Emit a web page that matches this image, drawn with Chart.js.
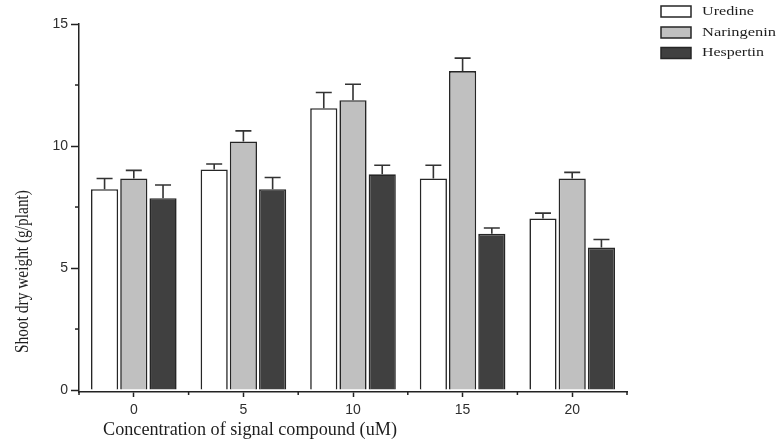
<!DOCTYPE html>
<html>
<head>
<meta charset="utf-8">
<script src="https://cdn.jsdelivr.net/npm/chart.js@4.4.1/dist/chart.umd.min.js"></script>
<style>
  html, body { margin: 0; padding: 0; background: #ffffff; }
  canvas { display: block; }
</style>
</head>
<body>
<canvas id="c" width="777" height="445"></canvas>
<script>
const categories = ['0', '5', '10', '15', '20'];
const seriesNames = ['Uredine', 'Naringenin', 'Hespertin'];
const uredine = [8.23, 9.04, 11.55, 8.67, 7.03];
const naringenin = [8.67, 10.19, 11.88, 13.07, 8.67];
const hespertin = [7.86, 8.23, 8.84, 6.40, 5.84];
const uredineErr = [0.44, 0.22, 0.64, 0.54, 0.22];
const naringeninErr = [0.33, 0.43, 0.65, 0.53, 0.25];
const hespertinErr = [0.54, 0.48, 0.37, 0.24, 0.33];
const yMajorTicks = [0, 5, 10, 15];
const yMinorTicks = [2.5, 7.5, 12.5];
const yTitle = 'Shoot dry weight (g/plant)';
const xTitle = 'Concentration of signal compound (uM)';

const fills = ['#ffffff', '#c0c0c0', '#404040'];
const edge = '#262626';
const axisColor = '#222222';

const errors = [uredineErr, naringeninErr, hespertinErr];

const extrasPlugin = {
  id: 'extras',
  afterDatasetsDraw(chart) {
    const ctx = chart.ctx;
    const ys = chart.scales.y;
    ctx.save();
    ctx.strokeStyle = '#333333';
    ctx.lineWidth = 1.6;
    chart.data.datasets.forEach((ds, i) => {
      const meta = chart.getDatasetMeta(i);
      meta.data.forEach((bar, j) => {
        const v = ds.data[j];
        const e = errors[i][j];
        const yTop = ys.getPixelForValue(v + e);
        ctx.beginPath();
        ctx.moveTo(bar.x, bar.y);
        ctx.lineTo(bar.x, yTop);
        ctx.moveTo(bar.x - 8, yTop);
        ctx.lineTo(bar.x + 8, yTop);
        ctx.stroke();
      });
    });
    ctx.restore();
  },
  afterDraw(chart) {
    const ctx = chart.ctx;
    const ys = chart.scales.y;
    const xs = chart.scales.x;
    const area = chart.chartArea;
    ctx.save();
    // minor y ticks
    ctx.strokeStyle = axisColor;
    ctx.lineWidth = 1.5;
    yMinorTicks.forEach(v => {
      const y = ys.getPixelForValue(v);
      ctx.beginPath();
      ctx.moveTo(area.left - 4, y);
      ctx.lineTo(area.left, y);
      ctx.stroke();
    });
    // x boundary ticks
    for (let k = 0; k <= categories.length; k++) {
      const x = k === 0 ? area.left : (k === categories.length ? area.right : (xs.getPixelForValue(k - 1) + xs.getPixelForValue(k)) / 2);
      ctx.beginPath();
      ctx.moveTo(x, area.bottom);
      ctx.lineTo(x, area.bottom + 3);
      ctx.stroke();
    }
    // y title
    ctx.fillStyle = '#1e1e1e';
    ctx.font = '18px "Liberation Serif"';
    ctx.textAlign = 'center';
    ctx.textBaseline = 'middle';
    let w = ctx.measureText(yTitle).width;
    ctx.save();
    ctx.translate(23, 271.5);
    ctx.rotate(-Math.PI / 2);
    ctx.scale(163 / w, 1);
    ctx.fillText(yTitle, 0, 0);
    ctx.restore();
    // x title
    ctx.font = '18px "Liberation Serif"';
    w = ctx.measureText(xTitle).width;
    ctx.save();
    ctx.translate(250, 430);
    ctx.scale(294 / w, 1);
    ctx.fillText(xTitle, 0, 0);
    ctx.restore();
    // legend
    const rows = [11.5, 32.5, 53];
    const textW = [52, 74, 62];
    ctx.font = '13px "Liberation Serif"';
    ctx.textAlign = 'left';
    chart.data.datasets.forEach((ds, i) => {
      const cy = rows[i];
      ctx.fillStyle = fills[i];
      ctx.fillRect(661, cy - 5.5, 30, 11);
      ctx.strokeStyle = edge;
      ctx.lineWidth = 1.5;
      ctx.strokeRect(661, cy - 5.5, 30, 11);
      ctx.fillStyle = '#1e1e1e';
      const tw = ctx.measureText(ds.label).width;
      ctx.save();
      ctx.translate(702, cy);
      ctx.scale(textW[i] / tw, 1);
      ctx.fillText(ds.label, 0, 0);
      ctx.restore();
    });
    ctx.restore();
  }
};

new Chart(document.getElementById('c'), {
  type: 'bar',
  data: {
    labels: categories,
    datasets: [
      { label: seriesNames[0], data: uredine, backgroundColor: fills[0], borderColor: edge, borderWidth: 1.6 },
      { label: seriesNames[1], data: naringenin, backgroundColor: fills[1], borderColor: edge, borderWidth: 1.6 },
      { label: seriesNames[2], data: hespertin, backgroundColor: fills[2], borderColor: edge, borderWidth: 1.6 }
    ]
  },
  options: {
    responsive: false,
    animation: false,
    devicePixelRatio: 1,
    categoryPercentage: 0.8,
    barPercentage: 0.93,
    layout: { padding: { left: 0, top: 24, right: 150, bottom: 0 } },
    plugins: {
      legend: { display: false },
      tooltip: { enabled: false }
    },
    scales: {
      y: {
        min: -0.08,
        max: 15,
        afterBuildTicks: s => { s.ticks = yMajorTicks.map(v => ({ value: v })); },
        afterFit: s => { s.width = 79; },
        ticks: {
          color: '#2e2e2e',
          font: { family: '"Liberation Sans", Arial, sans-serif', size: 14 },
          padding: 3
        },
        grid: { drawOnChartArea: false, tickLength: 8, tickColor: axisColor, tickWidth: 1.5 },
        border: { display: true, color: axisColor, width: 1.5 }
      },
      x: {
        afterFit: s => { s.height = 53; },
        ticks: {
          color: '#2e2e2e',
          font: { family: '"Liberation Sans", Arial, sans-serif', size: 14 },
          padding: 5
        },
        grid: { drawOnChartArea: false, offset: false, tickLength: 5, tickColor: axisColor, tickWidth: 1.5 },
        border: { display: true, color: axisColor, width: 1.5 }
      }
    }
  },
  plugins: [extrasPlugin]
});
</script>
</body>
</html>
